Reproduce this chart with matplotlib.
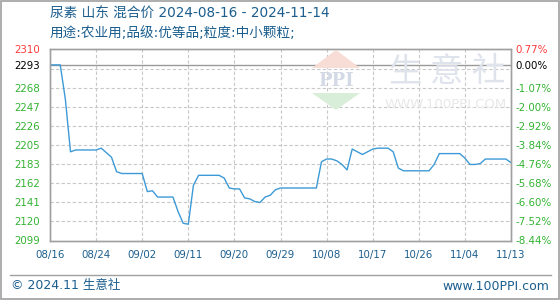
import matplotlib
matplotlib.use("Agg")
import matplotlib.pyplot as plt
from matplotlib.patches import Polygon, Rectangle
from matplotlib.lines import Line2D

plt.rcParams['font.family'] = ['DejaVu Sans', 'Noto Sans CJK SC']

# 日别价格 (08/16 - 11/14)
prices = [2293, 2293, 2293, 2255, 2197, 2199, 2199, 2199, 2199, 2199,
          2201, 2196, 2191, 2175, 2173, 2173, 2173, 2173, 2173, 2153,
          2154, 2147, 2147, 2147, 2147, 2131, 2118, 2117, 2160, 2171,
          2171, 2171, 2171, 2171, 2168, 2157, 2156, 2156, 2146, 2145,
          2142, 2141, 2147, 2149, 2155, 2157, 2157, 2157, 2157, 2157,
          2157, 2157, 2157, 2186, 2189, 2189, 2187, 2183, 2177, 2200,
          2197, 2194, 2197, 2200, 2201, 2201, 2201, 2197, 2179, 2176,
          2176, 2176, 2176, 2176, 2176, 2183, 2195, 2195, 2195, 2195,
          2195, 2190, 2183, 2183, 2184, 2189, 2189, 2189, 2189, 2189,
          2185]
days = list(range(len(prices)))

xtick_pos = [0, 9, 18, 27, 36, 45, 54, 63, 72, 81, 90]
xtick_labels = ['08/16', '08/24', '09/02', '09/11', '09/20', '09/29',
                '10/08', '10/17', '10/26', '11/04', '11/13']

y_min, y_max = 2099, 2310
base_price = 2293
grid_levels = [y_min + (y_max - y_min) * k / 10 for k in range(11)]
left_ticks = grid_levels[:9] + [base_price, y_max]
left_labels = ['2099', '2120', '2141', '2162', '2183', '2205', '2226',
               '2247', '2268', '2293', '2310']
right_labels = ['-8.44%', '-7.52%', '-6.60%', '-5.68%', '-4.76%', '-3.84%',
                '-2.92%', '-2.00%', '-1.07%', '0.00%', '0.77%']

title1 = '尿素 山东 混合价 2024-08-16 - 2024-11-14'
title2 = '用途:农业用;品级:优等品;粒度:中小颗粒;'

blue_txt = '#1b5e8e'
green = '#33b333'
red = '#ff3b3b'
frame = '#a0a0a0'

W, H = 560, 300
def fpt(x, y):
    return (x / W, 1 - y / H)

fig = plt.figure(figsize=(5.6, 3.0), dpi=100)
ax = fig.add_axes([50 / W, 1 - 240.5 / H, 461 / W, 191 / H])
ax.patch.set_alpha(0)

# 水印
for ch, cx in zip('生意社', [405, 447, 488]):
    fig.text(cx / W, 1 - 72 / H, ch, fontsize=24, color='#dfe3ec',
             ha='center', va='center', zorder=0, family=['Noto Sans CJK SC'])
fig.text(446 / W, 1 - 105 / H, 'WWW.100PPI.COM', fontsize=9.5,
         color='#e8e8e8', ha='center', va='center', zorder=0)
fig.patches.append(Polygon([fpt(312, 68), fpt(360, 68), fpt(336, 50)],
                           closed=True, transform=fig.transFigure,
                           facecolor='#f8dcd6', edgecolor='none', zorder=0))
fig.patches.append(Polygon([fpt(312, 93), fpt(360, 93), fpt(336, 110)],
                           closed=True, transform=fig.transFigure,
                           facecolor='#d8eed8', edgecolor='none', zorder=0))
fig.text(336 / W, 1 - 81 / H, 'PPI', fontsize=13, color='#d3dae6',
         ha='center', va='center', fontweight='bold',
         family=['DejaVu Serif'], zorder=0)

ax.plot(days, prices, color='#3d9ad6', lw=1.0, zorder=3)

ax.set_xlim(0, 90)
ax.set_ylim(y_min, y_max)

for g in grid_levels[1:-1]:
    ax.axhline(g, color='#c8c8c8', lw=0.8, ls=(0, (3, 2)), zorder=1)
for p in xtick_pos[1:-1]:
    ax.axvline(p, color='#c8c8c8', lw=0.8, ls=(0, (3, 2)), zorder=1)
ax.axhline(base_price, color='#9a9a9a', lw=1.0, zorder=2)

ax.set_xticks(xtick_pos)
ax.set_xticklabels(xtick_labels, color=blue_txt, fontsize=7.4)
ax.set_yticks(left_ticks)
ax.set_yticklabels(left_labels, fontsize=7.4)
ax.tick_params(length=0, pad=7)
for lab in ax.get_yticklabels():
    t = lab.get_text()
    lab.set_color(red if t == '2310' else ('black' if t == '2293' else green))

ax2 = ax.twinx()
ax2.set_ylim(y_min, y_max)
ax2.set_yticks(grid_levels[:9] + [base_price, y_max])
ax2.set_yticklabels(right_labels, fontsize=7.4)
ax2.tick_params(length=0, pad=3)
for lab in ax2.get_yticklabels():
    t = lab.get_text()
    lab.set_color(red if t == '0.77%' else ('black' if t == '0.00%' else green))

for a in (ax, ax2):
    for s in a.spines.values():
        s.set_color(frame)
        s.set_linewidth(1.0)

fig.text(50 / W, 1 - 14 / H, title1, fontsize=9.8, color=blue_txt, va='center')
fig.text(50 / W, 1 - 33 / H, title2, fontsize=9.8, color=blue_txt, va='center')

fig.lines.append(Line2D([10 / W, 551 / W], [1 - 275 / H, 1 - 275 / H],
                        transform=fig.transFigure, color=frame, lw=1.0))
fig.text(11 / W, 1 - 286 / H, '© 2024.11 生意社', fontsize=9, color=blue_txt,
         va='center')
fig.text(549 / W, 1 - 286 / H, 'www.100PPI.com', fontsize=9, color=blue_txt,
         va='center', ha='right')
fig.patches.append(Rectangle((0.001, 0.002), 0.997, 0.995,
                             transform=fig.transFigure, fill=False,
                             edgecolor=frame, lw=1.2))

fig.savefig('out.png', dpi=100)
